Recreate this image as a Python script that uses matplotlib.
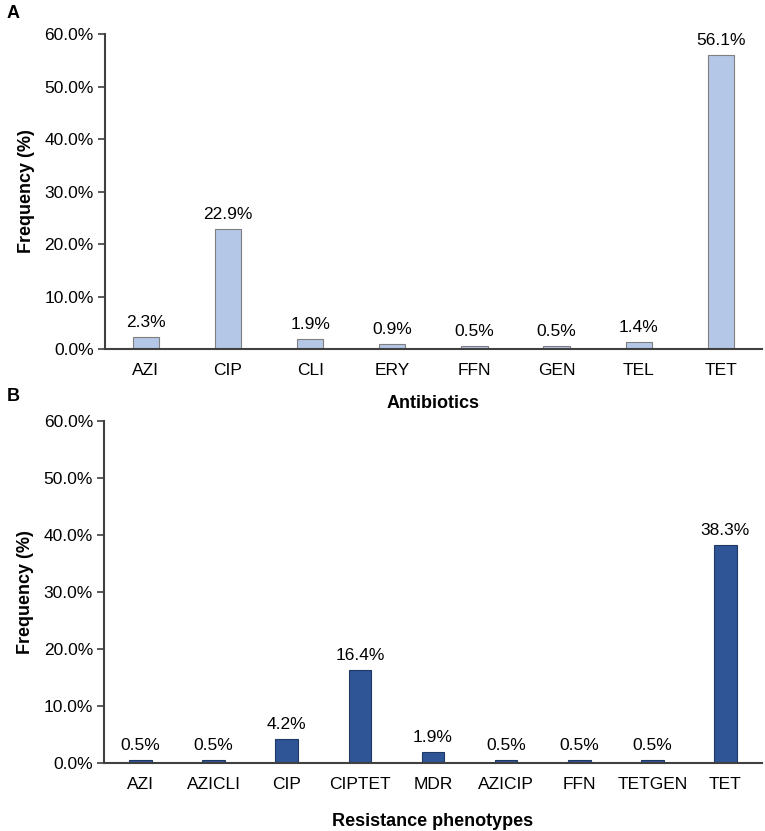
import numpy as np
import matplotlib.pyplot as plt
from matplotlib.ticker import FuncFormatter

plt.rcParams['font.family'] = ['Liberation Sans', 'DejaVu Sans']

antibiotics = ["AZI", "CIP", "CLI", "ERY", "FFN", "GEN", "TEL", "TET"]
antibiotic_freq = [2.3, 22.9, 1.9, 0.9, 0.5, 0.5, 1.4, 56.1]

phenotypes = ["AZI", "AZICLI", "CIP", "CIPTET", "MDR", "AZICIP", "FFN", "TETGEN", "TET"]
phenotype_freq = [0.5, 0.5, 4.2, 16.4, 1.9, 0.5, 0.5, 0.5, 38.3]

yticks = [0, 10, 20, 30, 40, 50, 60]

fig = plt.figure(figsize=(7.65, 8.31), dpi=100)
ax_a = fig.add_axes([0.137, 0.580, 0.859, 0.379])
ax_b = fig.add_axes([0.136, 0.082, 0.860, 0.411])


def style_panel(ax, cats, vals, color, edge, width, xlabel, xpad):
    x = np.arange(len(cats))
    ax.bar(x, vals, width=width, color=color, edgecolor=edge, linewidth=0.8, zorder=2)
    for xi, v in zip(x, vals):
        ax.annotate(f"{v:.1f}%", (xi, v), xytext=(0, 5), textcoords="offset points",
                    ha="center", va="bottom", fontsize=12.5)
    ax.set_xlim(-0.5, len(cats) - 0.5)
    ax.set_ylim(0, 60)
    ax.set_yticks(yticks)
    ax.yaxis.set_major_formatter(FuncFormatter(lambda v, p: f"{v:.1f}%"))
    ax.set_xticks(x)
    ax.set_xticklabels(cats)
    ax.tick_params(axis="x", length=0, pad=10, labelsize=12.5)
    ax.tick_params(axis="y", length=5, width=1.2, color="#404040", labelsize=12.5, pad=3)
    for s in ["top", "right"]:
        ax.spines[s].set_visible(False)
    for s in ["left", "bottom"]:
        ax.spines[s].set_color("#404040")
        ax.spines[s].set_linewidth(1.5)
    ax.set_ylabel("Frequency (%)", fontsize=13, fontweight="bold", labelpad=7)
    ax.set_xlabel(xlabel, fontsize=13, fontweight="bold", labelpad=xpad)


style_panel(ax_a, antibiotics, antibiotic_freq, "#b4c7e7", "#7f7f7f", 0.32, "Antibiotics", 12)
style_panel(ax_b, phenotypes, phenotype_freq, "#2f5597", "#1f3864", 0.31,
            "Resistance phenotypes", 15)

fig.text(0.009, 0.984, "A", fontsize=13, fontweight="bold", va="center")
fig.text(0.009, 0.523, "B", fontsize=13, fontweight="bold", va="center")

fig.savefig("out.png", dpi=100)
